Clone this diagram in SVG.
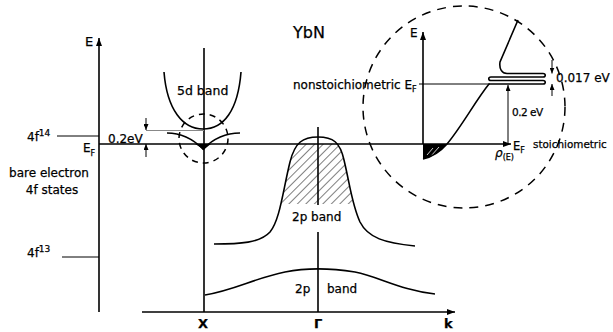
<svg xmlns="http://www.w3.org/2000/svg" width="613" height="332" viewBox="0 0 613 332">
<style>
text{font-family:"DejaVu Sans","Liberation Sans",sans-serif;fill:#000;font-size:12px;stroke:#000;stroke-width:0.25}
.ln{fill:none;stroke:#000;stroke-width:1.6}
.th{fill:none;stroke:#000;stroke-width:1}
.dash{fill:none;stroke:#000;stroke-width:1.5;stroke-dasharray:6 5}
.dashb{fill:none;stroke:#000;stroke-width:1.5;stroke-dasharray:9 7}
.b{font-weight:bold;font-size:13px}
.sub{font-size:8px}
</style>
<defs>
<marker id="ah" markerWidth="8" markerHeight="6" refX="8" refY="3" orient="auto" markerUnits="userSpaceOnUse"><path d="M0,0 L8,3 L0,6 z" fill="#000"/></marker>
<marker id="as" markerWidth="6" markerHeight="5" refX="6" refY="2.5" orient="auto" markerUnits="userSpaceOnUse"><path d="M0,0 L6,2.5 L0,5 z" fill="#000"/></marker>
<pattern id="hatch" width="6" height="6" patternUnits="userSpaceOnUse" patternTransform="rotate(45)"><line x1="0" y1="0" x2="0" y2="6" stroke="#000" stroke-width="1"/></pattern>
<clipPath id="bellclip"><path d="M214,244 C240,244 260,243 270,232 C280,220 283,190 290,162 C295,142 303,137 318,137 C333,137 340,142 344,160 C350,185 352,205 360,222 C368,238 385,243 415,246 Z"/></clipPath>
</defs>
<rect width="613" height="332" fill="#fff"/>

<g id="connectors">
<line class="ln" x1="99" y1="312" x2="99" y2="38" marker-end="url(#ah)"/>
<line class="th" x1="57" y1="136" x2="99" y2="136"/>
<line class="th" x1="62" y1="257" x2="99" y2="257"/>
<line class="ln" x1="99" y1="144" x2="511" y2="144" marker-end="url(#ah)"/>
<line class="ln" x1="142" y1="312" x2="455" y2="312" marker-end="url(#ah)"/>
<line class="ln" x1="204" y1="48" x2="204" y2="312"/>
<line class="ln" x1="318" y1="127" x2="318" y2="205"/>
<line class="ln" x1="318" y1="232" x2="318" y2="312"/>
<line x1="146" y1="130.5" x2="204" y2="130.5" stroke="#888" stroke-width="1"/>
<line class="th" x1="146" y1="118" x2="146" y2="130" marker-end="url(#as)"/>
<line class="th" x1="146" y1="157" x2="146" y2="144" marker-end="url(#as)"/>
<line class="ln" x1="423" y1="144" x2="423" y2="32" marker-end="url(#ah)"/>
<line class="th" x1="419" y1="84" x2="490" y2="84"/>
<line class="th" x1="508" y1="144" x2="508" y2="85" marker-end="url(#as)"/>
<line class="th" x1="552" y1="60" x2="552" y2="73.5" marker-end="url(#as)"/>
<line class="th" x1="552" y1="96" x2="552" y2="84" marker-end="url(#as)"/>
</g>

<g id="band-5d">
<path class="ln" d="M164,72 C167,110 183,129 203,129 C224,129 238,110 241,72"/>
<text x="177" y="95" style="font-size:12.5px">5d band</text>
</g>

<g id="band-4f-hybrid">
<path class="ln" d="M167,133 C180,133 192,138 203,149 C214,138 226,133 240,133"/>
<path d="M195,144 C199,146 201,147.5 203.5,150.5 C206,147.5 208,146 211,144 Z" fill="#000"/>
<circle class="dash" cx="203.5" cy="138.5" r="24.5"/>
</g>

<g id="band-2p-upper">
<rect x="260" y="144" width="120" height="60" fill="url(#hatch)" clip-path="url(#bellclip)"/>
<path class="ln" d="M214,244 C240,244 260,243 270,232 C280,220 283,190 290,162 C295,142 303,137 318,137 C333,137 340,142 344,160 C350,185 352,205 360,222 C368,238 385,243 415,246"/>
<text x="292" y="221">2p band</text>
</g>

<g id="band-2p-lower">
<path class="ln" d="M205,295 C235,290 255,278 285,272 C305,268 330,268 355,272 C380,277 400,290 435,294"/>
<text x="295" y="293">2p</text>
<text x="327" y="293">band</text>
</g>

<g id="inset">
<circle class="dashb" cx="464" cy="107" r="101"/>
<path d="M423,144 L423,159 C432,157 440,152 447,144 Z" fill="#000"/>
<line x1="427" y1="155" x2="433" y2="148" stroke="#fff" stroke-width="0.8"/>
<line x1="431" y1="156" x2="439" y2="147" stroke="#fff" stroke-width="0.8"/>
<path class="ln" d="M423,159 C432,157 440,152 447,144 C462,126 476,100 489,84 L543,84 C546,84 546,80.5 543,80.5 L491,80.5 C488,80.5 488,77 491,77 L543,77 C546,77 546,73.5 543,73.5 L507,73.5 C502,73.5 499,69 500,62 L518,20"/>
<text x="410" y="37">E</text>
<text x="293" y="89">nonstoichiometric E<tspan class="sub" dy="3">F</tspan></text>
<text x="556" y="82">0.017 eV</text>
<text x="512" y="116" style="font-size:10.5px;letter-spacing:-0.5px">0.2 eV</text>
<text x="495" y="157" font-style="italic">ρ<tspan class="sub" dy="3" font-style="normal">(E)</tspan></text>
<text x="513" y="150" style="font-size:11.5px">E<tspan class="sub" dy="3">F</tspan></text>
<text x="533" y="148" style="font-size:10.4px">stoichiometric</text>
</g>

<g id="labels">
<text x="293" y="38" style="font-size:16px">YbN</text>
<text x="85" y="46" style="font-size:13px">E</text>
<text x="27" y="141">4f<tspan style="font-size:9px" dy="-5">14</tspan></text>
<text x="83" y="152">E<tspan class="sub" dy="4">F</tspan></text>
<text x="108" y="143">0.2eV</text>
<text x="49" y="177" text-anchor="middle">bare electron</text>
<text x="52" y="194" text-anchor="middle">4f states</text>
<text x="27" y="257">4f<tspan style="font-size:9px" dy="-5">13</tspan></text>
<text class="b" x="198" y="328">X</text>
<text class="b" x="314" y="328">Γ</text>
<text class="b" x="444" y="328">k</text>
</g>
</svg>
